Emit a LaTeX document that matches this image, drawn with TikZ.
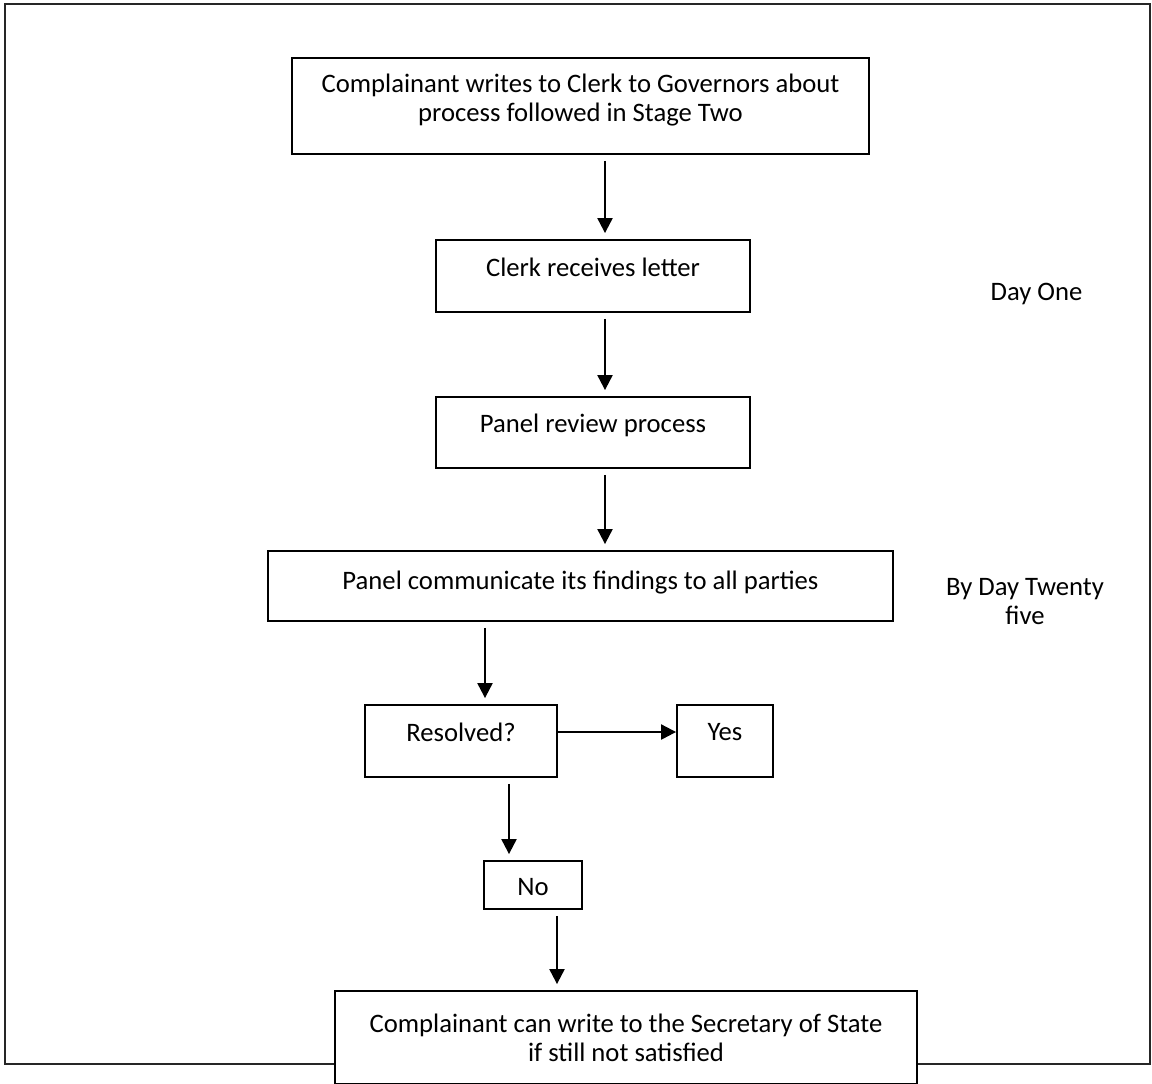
\documentclass[tikz,border=0pt]{standalone}
\usepackage{fontspec}
\setmainfont{Carlito}
\usetikzlibrary{arrows.meta}
\begin{document}
\begin{tikzpicture}[x=0.75pt,y=-0.75pt,
  font=\fontsize{20}{21.75}\selectfont,
  box/.style={draw, line width=1.4pt, fill=white, inner sep=0pt},
  txt/.style={align=center, inner sep=0pt},
  arr/.style={line width=1.6pt, -{Triangle[length=11.25pt,width=11.25pt]}},
  varr/.style={arr, shorten <=4.5pt, shorten >=4.5pt}]
\useasboundingbox (0,0) rectangle (1152,1083);
% outer frame
\draw[line width=1.5pt, black!85] (4.5,3.5) rectangle (1150,1063.5);
% boxes
\node[box, minimum width=432.75pt, minimum height=72pt] (top) at (580.5,106) {};
\node[box, minimum width=235.5pt, minimum height=54pt] (clerk) at (593,276) {};
\node[box, minimum width=235.5pt, minimum height=53.25pt] (review) at (593,432.5) {};
\node[box, minimum width=468.75pt, minimum height=52.5pt] (comm) at (580.5,586) {};
\node[box, minimum width=144pt, minimum height=54pt] (res) at (461,741) {};
\node[box, minimum width=72pt, minimum height=54pt] (yes) at (725,741) {};
\node[box, minimum width=73.5pt, minimum height=36pt] (no) at (533,885) {};
\node[box, minimum width=436.5pt, minimum height=69.75pt] (fin) at (626,1037.5) {};
% texts
\node[txt] (topt) at (580.5,100.5) {Complainant writes to Clerk to Governors about\\process followed in Stage Two};
\node[txt] (clerkt) at (593,267) {Clerk receives letter};
\node[txt] (reviewt) at (593,425) {Panel review process};
\node[txt] (commt) at (580.5,582.5) {Panel communicate its findings to all parties};
\node[txt] (rest) at (461,732) {Resolved?};
\node[txt] (yest) at (725,732) {Yes};
\node[txt] (not) at (533,887) {No};
\node[txt] (fint) at (626,1037.5) {Complainant can write to the Secretary of State\\if still not satisfied};
\node[txt] (day1) at (1036.5,294) {Day One};
\node[txt] (day25) at (1025,601.5) {By Day Twenty\\five};
% arrows
\draw[varr] (605,0 |- top.south) -- (605,0 |- clerk.north);
\draw[varr] (605,0 |- clerk.south) -- (605,0 |- review.north);
\draw[varr] (605,0 |- review.south) -- (605,0 |- comm.north);
\draw[varr] (485,0 |- comm.south) -- (485,0 |- res.north);
\draw[arr] (res.east |- 0,732) -- (yes.west |- 0,732);
\draw[varr] (509,0 |- res.south) -- (509,0 |- no.north);
\draw[varr] (557,0 |- no.south) -- (557,0 |- fin.north);
\end{tikzpicture}
\end{document}
